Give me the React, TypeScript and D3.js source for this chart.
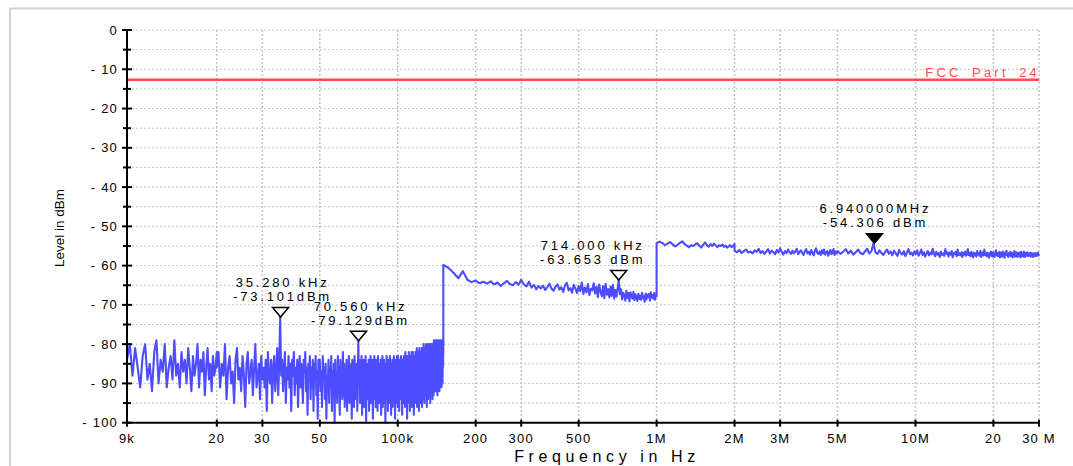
import React from 'react';
import * as d3 from 'd3';

// axis ticks
const yTicks = [0, -10, -20, -30, -40, -50, -60, -70, -80, -90, -100];
const xTickFreqs = [9e3, 2e4, 3e4, 5e4, 1e5, 2e5, 3e5, 5e5, 1e6, 2e6, 3e6, 5e6, 1e7, 2e7, 3e7];
const xTickLabels = ['9k', '20', '30', '50', '100k', '200', '300', '500', '1M', '2M', '3M', '5M', '10M', '20', '30 M'];

// limit line
const limitLevel = -12.7;
const limitName = 'FCC_Part_24';

// measured trace, one list of levels (dBm) per sweep range
const bandA1Levels = [
  -84, -80, -88, -81, -86, -91, -83, -80, -89, -85, -92, -82, -79, -90, -84, -87, -80, -91, -86, -83,
  -89, -79, -88, -85, -91, -82, -87, -84, -90, -81, -86, -92, -83, -88, -85, -80, -91, -84, -87, -82,
  -93, -86, -81, -89, -85, -92, -83, -88, -86, -82,
];
const bandA2Levels = [
  -86, -82, -91, -85, -88, -80, -94, -86, -83, -90,
  -87, -95, -84, -81, -89, -86, -92, -83, -88, -96,
  -85, -82, -90, -87, -84, -93, -86, -80, -91, -88,
  -85, -94, -83, -89, -86, -91, -84, -97, -82, -88,
  -90, -84, -95, -86, -83, -92, -87, -81, -93, -85,
  -73.1, -88, -84, -92, -87, -82, -95, -86, -89, -83,
  -91, -85, -97, -84, -88, -82, -93, -86, -90, -84,
  -96, -87, -83, -91, -85, -89, -95, -84, -87, -82,
  -92, -86, -98, -85, -88, -83, -94, -86, -91, -84,
  -97, -85, -89, -83, -93, -87, -99, -84, -90, -86,
];
const bandA3Levels = [
  -84, -92, -87, -96, -83, -89, -86, -94, -85, -99,
  -88, -91, -84, -95, -86, -90, -83, -97, -87, -93,
  -85, -100, -84, -91, -88, -95, -83, -92, -86, -98,
  -84, -90, -87, -94, -82, -93, -85, -96, -88, -91,
  -84, -97, -86, -92, -83, -95, -87, -90, -85, -99,
  -84, -93, -86, -96, -83, -91, -88, -94, -85, -97,
  -86, -79.1, -90, -84, -95, -87, -92, -83, -98, -86,
  -91, -84, -96, -87, -93, -83, -100, -85, -90, -86,
  -94, -84, -97, -88, -91, -83, -95, -86, -92, -84,
  -99, -87, -90, -83, -94, -86, -96, -84, -91, -88,
  -97, -83, -92, -85, -95, -87, -90, -84, -98, -86,
  -93, -83, -96, -88, -91, -84, -95, -85, -100, -87,
  -90, -83, -94, -86, -97, -84, -92, -87, -95, -83,
  -91, -85, -98, -86, -93, -84, -96, -88, -90, -83,
  -94, -86, -99, -84, -92, -87, -95, -83, -91, -85,
];
const bandA4Levels = [
  -96, -83, -92, -85, -97, -84, -90, -86, -94, -83,
  -93, -85, -98, -84, -91, -86, -95, -83, -92, -85,
  -96, -82, -90, -84, -94, -86, -99, -83, -91, -85,
  -95, -82, -92, -84, -97, -83, -90, -85, -93, -82,
  -96, -84, -91, -82, -94, -85, -98, -83, -92, -84,
  -95, -82, -90, -83, -93, -81, -96, -84, -91, -82,
  -94, -83, -97, -81, -92, -84, -95, -82, -90, -83,
  -93, -81, -96, -83, -91, -82, -94, -80, -92, -83,
  -95, -81, -90, -82, -93, -80, -91, -83, -96, -81,
  -92, -80, -94, -82, -90, -81, -93, -80, -91, -82,
  -95, -80, -89, -81, -92, -80, -90, -82, -94, -80,
  -91, -81, -93, -79, -89, -81, -92, -80, -90, -79,
  -92, -80, -88, -81, -91, -79, -93, -80, -89, -79,
  -91, -80, -88, -79, -92, -80, -87, -79, -90, -80,
  -89, -79, -91, -80, -87, -79, -90, -79, -86, -80,
];
const bandBLevels = [
  -59.8, -60.6, -61.8, -63.2, -61.4, -63.6, -64.2, -63.8, -64.5, -64.1,
  -64.6, -64.0, -64.8, -64.3, -65.2, -64.5, -63.9, -64.7, -65.0, -64.2,
  -64.9, -63.6, -64.8, -65.3, -64.1, -65.6, -64.9, -66.0, -65.2, -65.8,
  -65.1, -66.2, -65.4, -64.6, -65.9, -66.4, -65.3, -64.8, -66.1, -65.5,
  -66.7, -65.0, -64.4, -66.3, -65.7, -66.9, -64.9, -65.8, -67.0, -65.2,
  -66.5, -64.3, -67.2, -65.6, -66.8, -64.7, -67.5, -65.9, -66.3, -64.5,
  -67.1, -65.4, -68.0, -64.8, -66.6, -67.8, -65.2, -68.3, -64.6, -67.4,
  -66.0, -68.1, -65.3, -67.7, -64.9, -68.4, -66.2, -67.9, -65.8, -63.65,
  -67.3, -66.0, -68.6, -66.9, -67.5, -68.9, -66.4, -68.2, -67.0, -69.1,
  -66.8, -67.9, -68.4, -66.7, -68.8, -67.3, -68.1, -69.0, -67.2, -68.5,
  -67.6, -68.7, -66.9, -68.3, -67.8, -69.2, -67.1, -68.6, -67.4, -68.0,
  -67.2, -68.9, -66.8, -68.1, -67.5, -68.4, -67.0, -68.7, -67.3, -67.8,
];
const bandC1Levels = [
  -54.3, -53.9, -54.2, -54.8, -54.4, -54.0, -54.6, -55.1, -54.7, -54.2,
  -53.8, -54.5, -54.9, -55.3, -54.8, -55.0, -54.6, -54.3, -54.9, -55.4,
  -54.7, -54.1, -54.8, -55.2, -54.5, -55.0, -54.4, -54.9, -55.3, -54.8,
  -55.0, -54.6, -55.2, -54.9, -55.4, -55.1, -54.8, -55.3, -55.0, -54.5,
];
const bandC2Levels = [
  -56.2, -56.6, -56.0, -56.8, -56.3, -55.9, -56.7, -56.4, -56.9, -56.1,
  -56.5, -55.7, -56.8, -56.3, -57.0, -56.4, -55.8, -56.9, -56.2, -56.6,
  -57.1, -56.0, -56.7, -55.6, -56.5, -57.2, -56.3, -56.8, -55.9, -56.6,
  -57.0, -56.2, -56.9, -56.4, -55.7, -57.1, -56.5, -56.1, -56.8, -57.3,
  -56.3, -55.8, -56.9, -56.5, -57.2, -56.0, -56.7, -57.4, -56.2, -55.6,
  -56.8, -57.0, -56.4, -57.3, -56.1, -56.9, -55.9, -57.2, -56.6, -56.3,
  -57.5, -56.5, -56.0, -57.1, -56.7, -55.8, -57.3, -56.4, -56.9, -56.6,
];
const bandC3Levels = [
  -56.3, -57.0, -56.5, -55.8, -56.9, -56.2, -57.2, -56.6, -55.9, -56.8,
  -57.1, -56.4, -55.7, -56.9, -56.3, -54.3, -56.7, -57.0, -56.1, -56.8,
  -57.3, -56.5, -55.9, -57.0, -56.4, -57.4, -56.2, -56.9, -57.5, -56.0,
  -56.8, -57.2, -56.3, -57.6, -56.6, -55.8, -57.1, -56.7, -57.4, -56.4,
  -57.0, -56.1, -57.5, -56.8, -55.9, -57.3, -56.6, -57.7, -56.9, -56.3,
  -57.4, -56.7, -57.1, -55.7, -56.9, -57.6, -56.5, -57.2, -56.8, -57.8,
  -56.4, -57.3, -56.9, -57.5, -55.8, -57.0, -56.6, -57.7, -56.7, -57.2,
  -56.3, -57.9, -56.8, -57.1, -56.5, -57.6, -55.9, -57.3, -56.9, -57.4,
  -56.6, -57.8, -56.7, -57.2, -56.4, -57.5, -57.0, -55.8, -57.3, -56.8,
  -57.6, -56.5, -57.1, -57.9, -56.7, -57.4, -56.9, -57.7, -56.3, -57.2,
  -56.8, -57.5, -56.2, -57.8, -57.0, -56.6, -57.4, -55.9, -57.3, -56.9,
  -57.6, -56.7, -57.2, -58.0, -56.8, -57.5, -56.4, -57.3, -57.7, -56.6,
  -57.1, -57.8, -56.9, -56.1, -57.4, -56.8, -57.6, -57.0, -56.5, -57.9,
  -56.7, -57.3, -57.7, -56.4, -57.5, -56.9, -58.0, -56.6, -57.2, -56.2,
  -57.4, -57.0, -57.8, -56.8, -57.3, -56.5, -57.6, -57.1, -56.7, -57.9,
  -56.9, -57.5, -56.3, -57.7, -57.0, -56.6, -57.4, -57.8, -56.8, -57.2,
  -57.6, -56.7, -57.3, -57.9, -56.5, -57.1, -57.5, -56.9, -57.7, -56.4,
  -57.3, -57.8, -56.8, -57.4, -57.0, -56.6, -57.6, -57.2, -56.9, -57.5,
  -57.1, -56.7, -57.7, -57.3, -56.8, -57.5, -57.0, -57.8, -56.9, -57.4,
  -57.2, -56.8, -57.6, -57.1, -56.9, -57.5, -57.3, -56.7, -57.4, -57.0,
];

// sweep ranges (Hz)
const sweepStarts = [9e3, 20e3, 50e3, 100e3, 150e3, 1e6, 2e6, 5e6];
const sweepStops = [20e3, 50e3, 100e3, 150e3, 1e6, 2e6, 5e6, 30e6];
const sweepLevels = [
  bandA1Levels, bandA2Levels, bandA3Levels, bandA4Levels,
  bandBLevels, bandC1Levels, bandC2Levels, bandC3Levels,
];

// markers
const markerFreqs = [35.28e3, 70.56e3, 714e3, 6.94e6];
const markerLevels = [-73.101, -79.129, -63.653, -54.306];
const markerFreqText = ['35.280 kHz', '70.560 kHz', '714.000 kHz', '6.940000MHz'];
const markerLevelText = ['-73.101dBm', '-79.129dBm', '-63.653 dBm', '-54.306 dBm'];
const markerFilled = [false, false, false, true];

const W = 1073;
const H = 466;
const FONT = '"Liberation Sans", Arial, sans-serif';

export default function App() {
  const x = d3.scaleLog().domain([9e3, 30e6]).range([127, 1039]);
  const y = d3.scaleLinear().domain([0, -100]).range([30, 422.7]);

  const trace: [number, number][] = [];
  sweepLevels.forEach((levels, s) => {
    const n = levels.length;
    levels.forEach((v, i) => {
      const f = sweepStarts[s] + ((sweepStops[s] - sweepStarts[s]) * i) / (n - 1);
      trace.push([f, v]);
    });
  });

  const line = d3.line<[number, number]>()
    .x(d => x(d[0]))
    .y(d => y(d[1]));

  const hGrid = d3.range(0, -100, -5);
  const minorY = d3.range(-5, -100, -10);
  const [x0, x1] = x.range();
  const yBottom = y(-100);

  // the 714 kHz label sits a bit left of its marker
  const labelShift = [2, 2, -26, 1];

  return (
    <svg width={W} height={H} style={{ position: 'absolute', left: 0, top: 0, background: '#fff' }}
      fontFamily={FONT}>
      {/* outer frame */}
      <rect x={10} y={8.5} width={1100} height={500} fill="none" stroke="#d2d2d2" strokeWidth={2} />

      {/* grid */}
      <g stroke="#c4c4c4" strokeWidth={1} strokeDasharray="2,2" fill="none">
        {hGrid.map(d => (
          <line key={'h' + d} x1={x0 + 5} x2={x1} y1={y(d)} y2={y(d)} />
        ))}
        {xTickFreqs.slice(1).map(f => (
          <line key={'v' + f} x1={x(f)} x2={x(f)} y1={y(0)} y2={yBottom} strokeWidth={1.5} />
        ))}
      </g>

      {/* limit line */}
      <line x1={x0} x2={x1} y1={y(limitLevel)} y2={y(limitLevel)} stroke="#ff4c4c" strokeWidth={2.5} />
      <text x={x1 + 1} y={y(limitLevel) - 3} textAnchor="end" fill="#ff5050" fontSize={13}
        letterSpacing={3.2}>{limitName}</text>

      {/* trace */}
      <path d={line(trace) || ''} fill="none" stroke="#4d4dff" strokeWidth={2.1} strokeLinejoin="round" />

      {/* axes */}
      <g stroke="#000" strokeWidth={2}>
        <line x1={x0} x2={x0} y1={y(0) - 1} y2={yBottom + 1} />
        <line x1={x0} x2={x1} y1={yBottom} y2={yBottom} />
        {yTicks.map(d => (
          <line key={'yt' + d} x1={x0 - 5} x2={x0 + 5} y1={y(d)} y2={y(d)} />
        ))}
        {minorY.map(d => (
          <line key={'ym' + d} x1={x0 - 4} x2={x0 + 4} y1={y(d)} y2={y(d)} />
        ))}
        {xTickFreqs.map(f => (
          <line key={'xt' + f} x1={x(f)} x2={x(f)} y1={yBottom - 3} y2={yBottom + 4} />
        ))}
      </g>

      {/* y tick labels */}
      {yTicks.map(d => (
        <text key={'yl' + d} x={x0 - 9} y={y(d) + 4.5} textAnchor="end" fontSize={13}
          letterSpacing={1.2}>{d === 0 ? '0' : `- ${-d}`}</text>
      ))}

      {/* x tick labels */}
      {xTickFreqs.map((f, i) => (
        <text key={'xl' + f} x={x(f)} y={yBottom + 20} textAnchor="middle" fontSize={13}
          letterSpacing={1.2}>{xTickLabels[i]}</text>
      ))}

      {/* axis titles */}
      <text transform={`translate(64,228) rotate(-90)`} textAnchor="middle" fontSize={13.5}>Level in dBm</text>
      <text x={607} y={462} textAnchor="middle" fontSize={16} letterSpacing={4.6}>Frequency in Hz</text>

      {/* markers */}
      {markerFreqs.map((f, i) => {
        const cx = x(f);
        const cy = y(markerLevels[i]);
        const lx = cx + labelShift[i];
        return (
          <g key={'m' + i}>
            <path d={`M${cx - 8},${cy - 9.5}L${cx + 8},${cy - 9.5}L${cx},${cy}Z`}
              fill={markerFilled[i] ? '#000' : '#fff'} stroke="#000" strokeWidth={1.5} strokeLinejoin="miter" />
            <text x={lx} y={cy - 30} textAnchor="middle" fontSize={13} letterSpacing={2.8}>{markerFreqText[i]}</text>
            <text x={lx} y={cy - 16} textAnchor="middle" fontSize={13} letterSpacing={2.8}>{markerLevelText[i]}</text>
          </g>
        );
      })}
    </svg>
  );
}
